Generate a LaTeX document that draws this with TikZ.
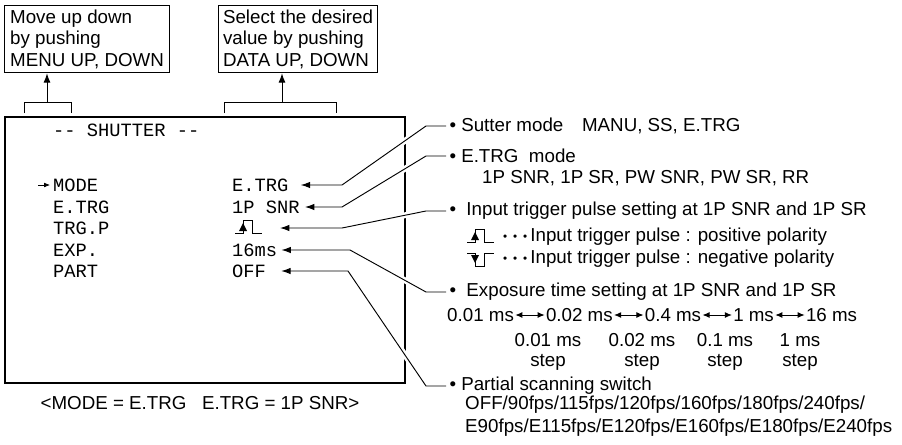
\documentclass[tikz,border=0pt]{standalone}
\usepackage{fontspec}
\setmainfont{Liberation Sans}
\setmonofont{Liberation Mono}
\usetikzlibrary{calc, positioning, arrows.meta}
\newcommand{\leaderdots}{\raisebox{1.2pt}{\fontsize{10}{10}\selectfont •\hspace{5pt}•\hspace{5pt}•}}

\begin{document}
\begin{tikzpicture}[x=0.03cm, y=-0.03cm, >={Latex[length=8pt,width=6pt]},
  font=\fontsize{16}{18.5}\selectfont,
  notebox/.style={draw, line width=1pt, anchor=north west, align=left, inner xsep=0pt, minimum height=2.01cm},
  scr/.style={anchor=west, inner sep=0pt, font=\ttfamily\fontsize{16}{18}\selectfont},
  desc/.style={anchor=west, inner sep=0pt, outer xsep=3pt, align=left},
  conn/.style={-{Latex[length=8pt,width=5.5pt]}, line width=0.8pt, preaction={draw=white, line width=5pt, -}},
  twoway/.style={{Latex[length=6pt,width=5pt]}-{Latex[length=6pt,width=5pt]}, line width=0.7pt},
  steptext/.style={align=center, inner sep=0pt, font=\fontsize{16}{17}\selectfont},
  pulseup/.pic={
    \draw[line width=0.7pt] (0,0) -- (8,0) -- (8,-13) -- (17,-13) -- (17,0) -- (27,0);
    \fill (4,-2) -- (12,-2) -- (8,-10) -- cycle;
  },
  pulsedown/.pic={
    \draw[line width=0.7pt] (0,-13) -- (8,-13) -- (8,0) -- (17,0) -- (17,-13) -- (27,-13);
    \fill (4,-11) -- (12,-11) -- (8,-3) -- cycle;
  }]

  \useasboundingbox (0,0) rectangle (902,444);

  % Notes above the screen
  \node[notebox, minimum width=4.95cm] (menunote) at (4,5) {Move up down\\by pushing\\MENU UP, DOWN};
  \node[notebox, minimum width=4.77cm] (datanote) at (218,5) {Select the desired\\value by pushing\\DATA UP, DOWN};

  % Brackets
  \draw[line width=0.8pt] (24,113) -- (24,102) -- (71,102) -- (71,113);
  \draw[line width=0.8pt] (224,113) -- (224,102) -- (336,102) -- (336,113);
  \coordinate (menubrk) at (47,102);
  \coordinate (databrk) at (282,102);
  \draw[->, line width=0.8pt] (menubrk) -- (menubrk |- menunote.south);
  \draw[->, line width=0.8pt] (databrk) -- (databrk |- datanote.south);

  % Screen
  \draw[line width=1.7pt] (5,117) rectangle (405,383);
  \node[scr] (title) at (53,130) {-- SHUTTER --};
  \node[scr] (kmode) at (53,185) {MODE};
  \coordinate (cursor) at (38,185);
  \draw[-{Latex[length=5pt,width=4pt]}, line width=0.6pt] (cursor) -- ($(kmode.west)+(-3,0)$);
  \node[scr] (ketrg) at (53,207) {E.TRG};
  \node[scr] (ktrgp) at (53,228) {TRG.P};
  \node[scr] (kexp) at (53,250) {EXP.};
  \node[scr] (kpart) at (53,271) {PART};
  \node[scr] (vmode) at (232,185) {E.TRG};
  \node[scr] (vetrg) at (232,207) {1P SNR};
  \pic at (235,233) {pulseup};
  \coordinate (vtrgp) at (262,228);
  \node[scr] (vexp) at (232,250) {16ms};
  \node[scr] (vpart) at (232,271) {OFF};
  \node (caption) at (200,403) {<MODE = E.TRG\ \ \ E.TRG = 1P SNR>};

  % Descriptions
  \node[desc] (dsut) at (446,126) {• Sutter mode\quad MANU, SS, E.TRG};
  \node[desc] (detrg) at (446,156) {• E.TRG\ \ mode};
  \node[anchor=west, inner sep=0pt] (etrglist) at (482,178) {1P SNR, 1P SR, PW SNR, PW SR, RR};
  \node[desc] (dtrgp) at (446,211) {•\ \ Input trigger pulse setting at 1P SNR and 1P SR};
  \pic at (467,242) {pulseup};
  \node[anchor=west, inner sep=0pt] (pospol) at (503,237) {\leaderdots\,Input trigger pulse : positive polarity};
  \pic at (467,266) {pulsedown};
  \node[anchor=west, inner sep=0pt] (negpol) at (503,259) {\leaderdots\,Input trigger pulse : negative polarity};
  \node[desc] (dexp) at (446,292) {•\ \ Exposure time setting at 1P SNR and 1P SR};

  % Exposure steps
  \node[anchor=west, inner sep=0pt] (e1) at (447,315) {0.01 ms};
  \node[right=0.95cm of e1, inner sep=0pt] (e2) {0.02 ms};
  \node[right=0.95cm of e2, inner sep=0pt] (e3) {0.4 ms};
  \node[right=0.95cm of e3, inner sep=0pt] (e4) {1 ms};
  \node[right=0.95cm of e4, inner sep=0pt] (e5) {16 ms};
  \foreach \a/\b in {e1/e2, e2/e3, e3/e4, e4/e5}
    \draw[twoway, shorten <=1pt, shorten >=1pt] (\a.east) -- (\b.west);
  \node[steptext] (s1) at (548,352) {0.01 ms\\step};
  \node[steptext] (s2) at (642,352) {0.02 ms\\step};
  \node[steptext] (s3) at (725,352) {0.1 ms\\step};
  \node[steptext] (s4) at (800,352) {1 ms\\step};

  \node[desc] (dpart) at (446,386) {• Partial scanning switch};
  \node[anchor=west, inner sep=0pt, align=left, font=\fontsize{16}{19.5}\selectfont] (partlist) at (465,416.5)
    {OFF/90fps/115fps/120fps/160fps/180fps/240fps/\\E90fps/E115fps/E120fps/E160fps/E180fps/E240fps};

  % Connectors
  \draw[conn] (dsut.west) -- ++(-20,0) -- (342,185) -- ($(vmode.east)+(12,0)$);
  \draw[conn] (detrg.west) -- ++(-20,0) -- (342,207) -- ($(vetrg.east)+(5,0)$);
  \draw[conn] (dtrgp.west) -- ++(-20,0) -- (342,228) -- ($(vtrgp)+(18,0)$);
  \draw[conn] (dexp.west) -- ++(-20,0) -- (350,250) -- ($(vexp.east)+(4,0)$);
  \draw[conn] (dpart.west) -- ++(-20,0) -- (348,271) -- ($(vpart.east)+(15,0)$);

\end{tikzpicture}
\end{document}
